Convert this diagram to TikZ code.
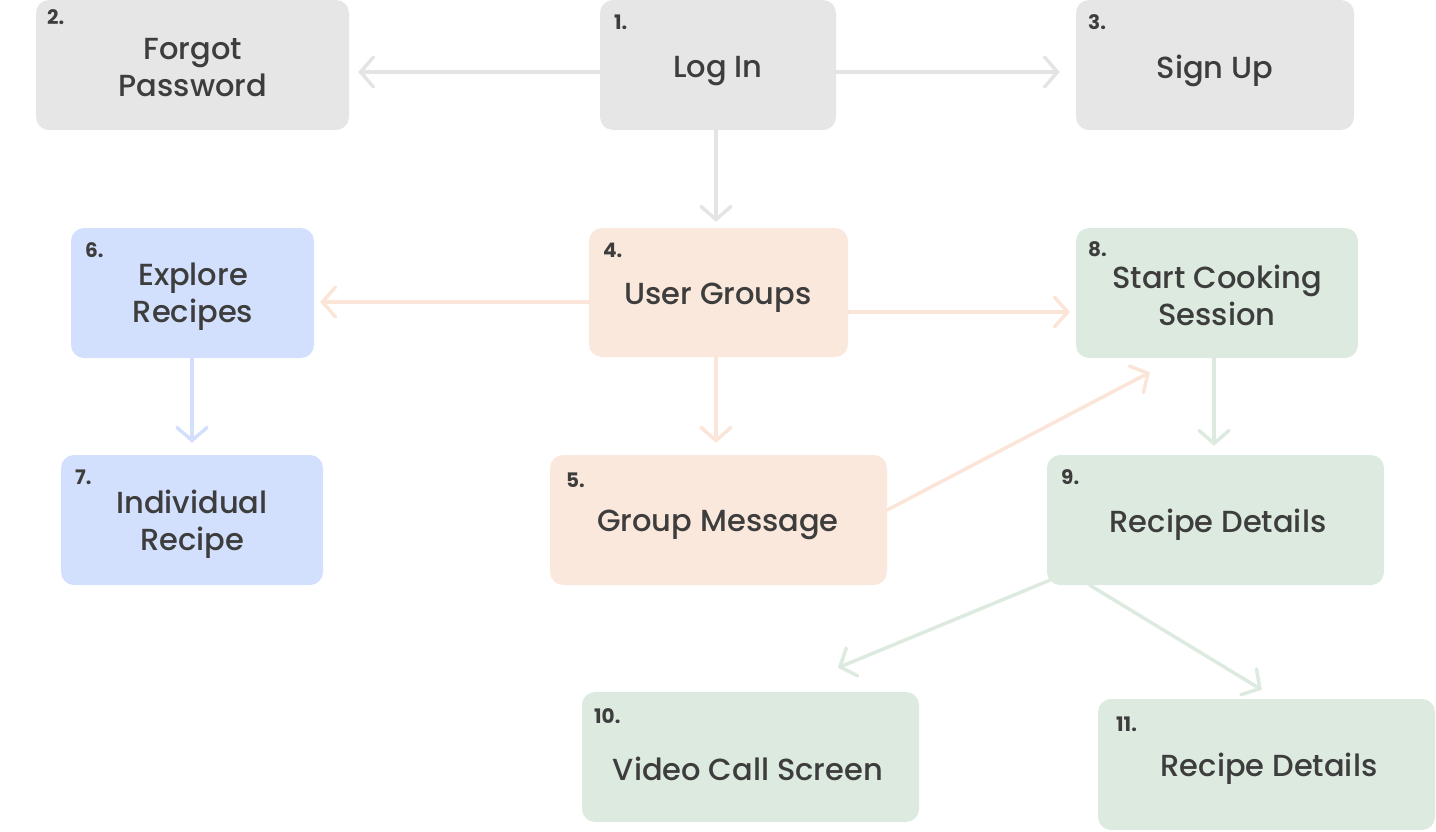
\documentclass[tikz,border=0pt]{standalone}
\usepackage{fontspec}
\setmainfont{Poppins}[UprightFont={* Medium}, BoldFont={* Bold}]
\usetikzlibrary{arrows.meta,calc}
\definecolor{txt}{HTML}{3D3D3D}
\definecolor{grayfill}{HTML}{E6E6E6}
\definecolor{grayline}{HTML}{E4E4E4}
\definecolor{orfill}{HTML}{FBE8DD}
\definecolor{orline}{HTML}{FBE5D8}
\definecolor{blfill}{HTML}{D2E0FD}
\definecolor{blline}{HTML}{D2E0FD}
\definecolor{grfill}{HTML}{DDEADF}
\definecolor{grline}{HTML}{DDEADF}
\tikzset{
  box/.style={rounded corners=13pt, inner sep=0pt, draw=none},
  lbl/.style={text=txt, font=\fontsize{30.5}{37}\selectfont, align=center, inner sep=0pt},
  num/.style={text=txt, font=\bfseries\fontsize{20}{22}\selectfont, anchor=base west, inner sep=0pt},
  conn/.style={line width=3.5pt, line cap=round, -{Straight Barb[length=13pt,width=30pt,line cap=round]}},
}
\begin{document}
\begin{tikzpicture}[x=1pt,y=-1pt]
\useasboundingbox (0,0) rectangle (1436,831);
% boxes
\node[box, fill=grayfill, minimum width=236pt, minimum height=130pt] (login) at (718,65) {};
\node[box, fill=grayfill, minimum width=313pt, minimum height=130pt] (forgot) at (192.5,65) {};
\node[box, fill=grayfill, minimum width=278pt, minimum height=130pt] (signup) at (1215,65) {};
\node[box, fill=orfill, minimum width=259pt, minimum height=129pt] (groups) at (718.5,292.5) {};
\node[box, fill=blfill, minimum width=243pt, minimum height=130pt] (explore) at (192.5,293) {};
\node[box, fill=grfill, minimum width=282pt, minimum height=130pt] (start) at (1217,293) {};
\node[box, fill=blfill, minimum width=262pt, minimum height=130pt] (indiv) at (192,520) {};
\node[box, fill=orfill, minimum width=337pt, minimum height=130pt] (msg) at (718.5,520) {};
\node[box, fill=grfill, minimum width=337pt, minimum height=130pt] (details) at (1215.5,520) {};
\node[box, fill=grfill, minimum width=337pt, minimum height=130pt] (video) at (750.5,757) {};
\node[box, fill=grfill, minimum width=337pt, minimum height=131pt] (rd) at (1266.5,764.5) {};
% texts
\node[lbl] (tlogin) at (718,71) {Log In};
\node[lbl] (tforgot) at (193,68) {Forgot\\Password};
\node[lbl] (tsignup) at (1215,71) {Sign Up};
\node[lbl] (tgroups) at (718,298) {User Groups};
\node[lbl] (texplore) at (193,297) {Explore\\Recipes};
\node[lbl] (tstart) at (1217,295) {Start Cooking\\Session};
\node[lbl] (tindiv) at (192,524) {Individual\\Recipe};
\node[lbl] (tmsg) at (718,525) {Group Message};
\node[lbl] (tdetails) at (1218,525) {Recipe Details};
\node[lbl] (tvideo) at (748,769) {Video Call Screen};
\node[lbl] (trd) at (1269,769) {Recipe Details};
% numbers
\node[num] (n1) at (614,29) {1.};
\node[num] (n2) at (47,24) {2.};
\node[num] (n3) at (1088,29) {3.};
\node[num] (n4) at (603,257) {4.};
\node[num] (n6) at (85,257) {6.};
\node[num] (n8) at (1088,256) {8.};
\node[num] (n7) at (75,484) {7.};
\node[num] (n5) at (566,487) {5.};
\node[num] (n9) at (1061,484) {9.};
\node[num] (n10) at (594,723) {10.};
\node[num] (n11) at (1116,731) {11.};
% connectors
\draw[conn, grayline, shorten >=9pt] ($(login.west)+(0,7)$) -- ($(forgot.east)+(0,7)$);
\draw[conn, grayline, shorten >=16pt] ($(login.east)+(0,7)$) -- ($(signup.west)+(0,7)$);
\draw[conn, grayline, shorten >=6pt] ($(login.south)+(-2,0)$) -- ($(groups.north)+(-2.5,0)$);
\draw[conn, orline, shorten >=6pt] ($(groups.west)+(0,9.5)$) -- ($(explore.east)+(0,9)$);
\draw[conn, orline, shorten >=6pt] ($(groups.east)+(0,19.5)$) -- ($(start.west)+(0,19)$);
\draw[conn, orline, shorten >=12pt] ($(groups.south)+(-2.5,0)$) -- ($(msg.north)+(-2.5,0)$);
\draw[conn, blline, shorten >=12pt] ($(explore.south)+(-0.5,0)$) -- ($(indiv.north)+(0,0)$);
\draw[conn, orline] ($(msg.east)+(0,-10)$) -- ($(start.south)+(-67,14)$);
\draw[conn, grline, shorten >=9pt] ($(start.south)+(-3,0)$) -- ($(details.north)+(-1.5,0)$);
\draw[conn, grline] ($(details.south west)+(3,-5)$) -- ($(video.north west)+(256,-24)$);
\draw[conn, grline] ($(details.south west)+(43,0)$) -- ($(rd.north west)+(164,-9)$);
\end{tikzpicture}
\end{document}
